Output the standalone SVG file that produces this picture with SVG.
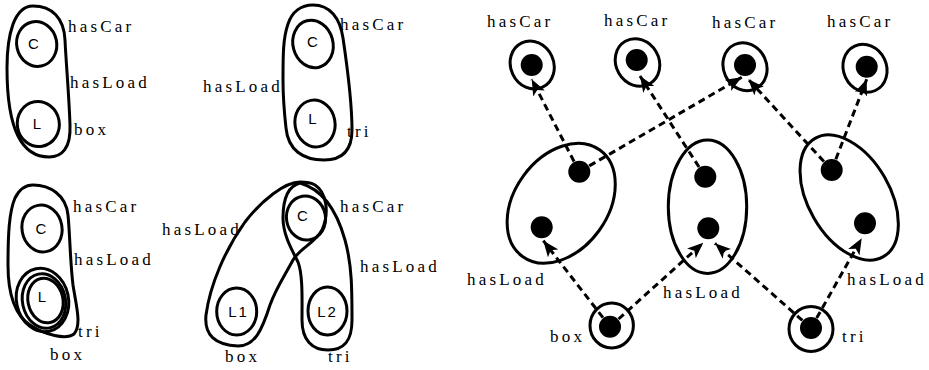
<svg xmlns="http://www.w3.org/2000/svg" width="929" height="370" viewBox="0 0 929 370">
  <style>
    .shape { fill: none; stroke: #000; stroke-width: 3; }
    .lbl { font-family: "Liberation Serif", "Times New Roman", serif; font-size: 17px; letter-spacing: 3.2px; fill: #000; }
    .var { font-family: "Liberation Sans", Arial, sans-serif; font-size: 15px; fill: #000; text-anchor: middle; }
    .dot { fill: #000; }
    .edge { fill: none; stroke: #000; stroke-width: 3; stroke-dasharray: 7 4.5; marker-end: url(#arrow); }
  </style>
  <defs>
    <marker id="arrow" markerUnits="userSpaceOnUse" markerWidth="16" markerHeight="13" viewBox="0 0 16 13" refX="16" refY="6.5" orient="auto">
      <path d="M0,0 L16,6.5 L0,13 L4,6.5 Z" fill="#000" stroke="none"/>
    </marker>
  </defs>
  <rect width="929" height="370" fill="#fff"/>

  <!-- Pattern 1: car with a box load -->
  <g id="pattern-box">
    <path class="shape" d="M33,6 C52,6 64,18 65,40 C66,62 69,95 70,125 C71,148 62,157 49,157 C36,157 25,150 18,136 C9,118 7,95 7,68 C7,35 14,6 33,6 Z"/>
    <ellipse class="shape" cx="36.7" cy="44" rx="20" ry="22.5" transform="rotate(-12 36.7 44)"/>
    <ellipse class="shape" cx="38.3" cy="124" rx="21" ry="22.5" transform="rotate(-10 38.3 124)"/>
    <text class="var" x="33.5" y="48.5">C</text>
    <text class="var" x="37" y="128.5">L</text>
    <text class="lbl" x="68" y="32">hasCar</text>
    <text class="lbl" x="70" y="88">hasLoad</text>
    <text class="lbl" x="74" y="135">box</text>
  </g>

  <!-- Pattern 2: car with a tri load -->
  <g id="pattern-tri">
    <path class="shape" d="M313,5 C330,5 340,18 343,38 C347,65 352,100 352,130 C352,150 343,160 324,160 C303,160 288,150 286,128 C284,110 283,95 283,80 C283,55 283,38 288,24 C292,12 301,5 313,5 Z"/>
    <ellipse class="shape" cx="313" cy="44" rx="20" ry="24" transform="rotate(-15 313 44)"/>
    <ellipse class="shape" cx="315" cy="123.5" rx="20" ry="23.5" transform="rotate(-10 315 123.5)"/>
    <text class="var" x="312.5" y="47">C</text>
    <text class="var" x="312.5" y="123.5">L</text>
    <text class="lbl" x="340" y="30">hasCar</text>
    <text class="lbl" x="203" y="92">hasLoad</text>
    <text class="lbl" x="347" y="137">tri</text>
  </g>

  <!-- Pattern 3: one load that is both box and tri -->
  <g id="pattern-shared-load">
    <path class="shape" d="M33,185 C50,185 66,195 68,215 C70,235 70,260 73,285 C76,305 82,325 74,334 C66,340 45,335 30,325 C15,315 8,295 8,265 C8,235 9,212 15,198 C20,188 26,185 33,185 Z"/>
    <ellipse class="shape" cx="42" cy="228.5" rx="20" ry="23.5" transform="rotate(-10 42 228.5)"/>
    <ellipse class="shape" cx="42.5" cy="300" rx="26" ry="32" transform="rotate(-12 42.5 300)"/>
    <ellipse class="shape" cx="44" cy="301" rx="21.5" ry="27.5" transform="rotate(-12 44 301)"/>
    <ellipse class="shape" cx="45.5" cy="300.5" rx="17.5" ry="22.5" transform="rotate(-12 45.5 300.5)"/>
    <text class="var" x="41" y="233.5">C</text>
    <text class="var" x="42" y="302">L</text>
    <text class="lbl" x="73" y="212">hasCar</text>
    <text class="lbl" x="74" y="265">hasLoad</text>
    <text class="lbl" x="78" y="337">tri</text>
    <text class="lbl" x="50" y="360">box</text>
  </g>

  <!-- Pattern 4: one car with two loads -->
  <g id="pattern-two-loads">
    <path class="shape" d="M300,182 C285,182 262,200 245,222 C225,250 210,285 206,315 C204,335 215,345 238,346 C255,346 262,330 270,305 C276,288 285,275 293,260 C300,248 315,243 322,230 C330,212 326,192 315,185 C310,182 305,182 300,182 Z"/>
    <path class="shape" d="M300,183 C288,186 283,200 283,218 C283,235 292,250 298,262 C303,275 302,300 302,320 C302,340 312,350 328,350 C345,350 352,340 352,320 C352,290 352,265 345,240 C338,215 325,190 300,183 Z"/>
    <ellipse class="shape" cx="306" cy="218" rx="19.5" ry="22" transform="rotate(-10 306 218)"/>
    <ellipse class="shape" cx="236.7" cy="311.5" rx="20" ry="23.5"/>
    <ellipse class="shape" cx="327.5" cy="311" rx="19.5" ry="24"/>
    <text class="var" x="302.5" y="220.5">C</text>
    <text class="var" x="238.5" y="317" letter-spacing="2">L1</text>
    <text class="var" x="327.5" y="317" letter-spacing="2">L2</text>
    <text class="lbl" x="162" y="235">hasLoad</text>
    <text class="lbl" x="340" y="212">hasCar</text>
    <text class="lbl" x="360" y="272">hasLoad</text>
    <text class="lbl" x="225" y="362">box</text>
    <text class="lbl" x="328" y="362">tri</text>
  </g>

  <!-- Graph connectors -->
  <g id="connectors">
    <path class="edge" d="M579.3,171.7 L531.7,79.3"/>
    <path class="edge" d="M579.3,171.7 L741.7,77.3"/>
    <path class="edge" d="M705.3,176.7 L640,76"/>
    <path class="edge" d="M831.7,170 L748.3,79.3"/>
    <path class="edge" d="M831.7,170 L866.7,79.3"/>
    <path class="edge" d="M610,326.7 L543.3,240.7"/>
    <path class="edge" d="M610,326.7 L703.3,242.7"/>
    <path class="edge" d="M811,328 L715,243.3"/>
    <path class="edge" d="M811,328 L861.7,238.3"/>
  </g>

  <!-- Car nodes -->
  <g id="car1">
    <ellipse class="shape" cx="532.2" cy="65" rx="21.5" ry="24.5" transform="rotate(-25 532.2 65)"/>
    <circle class="dot" cx="531.7" cy="65" r="11"/>
    <text class="lbl" x="487" y="27">hasCar</text>
  </g>
  <g id="car2">
    <ellipse class="shape" cx="637.5" cy="62.5" rx="21.5" ry="24.5" transform="rotate(-30 637.5 62.5)"/>
    <circle class="dot" cx="636.7" cy="60" r="11"/>
    <text class="lbl" x="604" y="26">hasCar</text>
  </g>
  <g id="car3">
    <ellipse class="shape" cx="745" cy="66.7" rx="21.5" ry="24.5" transform="rotate(-25 745 66.7)"/>
    <circle class="dot" cx="745" cy="65" r="11"/>
    <text class="lbl" x="712" y="28.3">hasCar</text>
  </g>
  <g id="car4">
    <ellipse class="shape" cx="865" cy="68.3" rx="21.5" ry="24.5" transform="rotate(-25 865 68.3)"/>
    <circle class="dot" cx="866.7" cy="66.7" r="11"/>
    <text class="lbl" x="827" y="27.3">hasCar</text>
  </g>

  <!-- Train-part nodes -->
  <g id="part-left">
    <ellipse class="shape" cx="561.2" cy="203.3" rx="46.7" ry="65.8" transform="rotate(36 561.2 203.3)"/>
    <circle class="dot" cx="579.3" cy="171.7" r="11"/>
    <circle class="dot" cx="541.7" cy="227.3" r="11"/>
    <text class="lbl" x="467" y="285">hasLoad</text>
  </g>
  <g id="part-middle">
    <ellipse class="shape" cx="707.5" cy="206.7" rx="39.2" ry="66.7"/>
    <circle class="dot" cx="705.3" cy="176.7" r="11"/>
    <circle class="dot" cx="708.3" cy="228.3" r="11"/>
    <text class="lbl" x="663" y="298.3">hasLoad</text>
  </g>
  <g id="part-right">
    <ellipse class="shape" cx="849.2" cy="197.5" rx="40.8" ry="68.3" transform="rotate(-30 849.2 197.5)"/>
    <circle class="dot" cx="831.7" cy="170" r="11"/>
    <circle class="dot" cx="865" cy="223.3" r="11"/>
    <text class="lbl" x="847" y="285">hasLoad</text>
  </g>

  <!-- Load nodes -->
  <g id="load-box">
    <ellipse class="shape" cx="611.7" cy="325.5" rx="21.7" ry="22.5"/>
    <circle class="dot" cx="610" cy="326.7" r="11"/>
    <text class="lbl" x="550" y="341.7">box</text>
  </g>
  <g id="load-tri">
    <ellipse class="shape" cx="811" cy="329" rx="22" ry="22.5"/>
    <circle class="dot" cx="811" cy="328" r="11"/>
    <text class="lbl" x="842" y="341.7">tri</text>
  </g>
</svg>
